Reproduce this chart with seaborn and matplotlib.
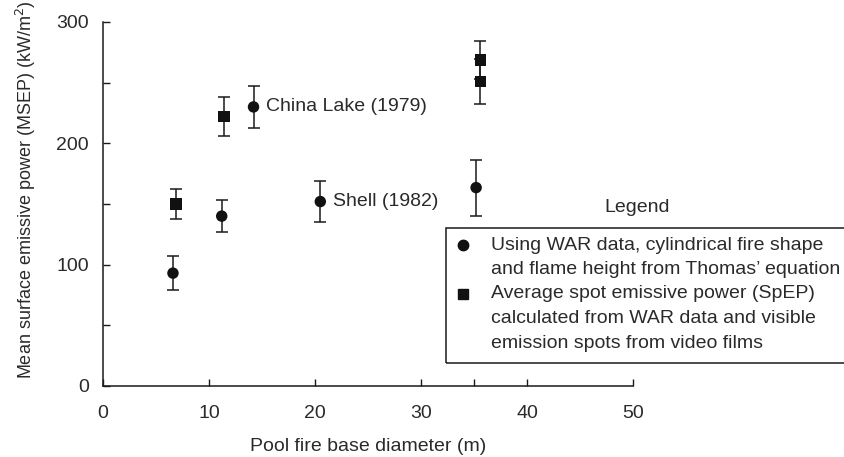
import numpy as np
import pandas as pd
import seaborn as sns
import matplotlib.pyplot as plt
from matplotlib.lines import Line2D
from matplotlib.patches import Rectangle
from matplotlib.ticker import MultipleLocator, FixedLocator

# data
war_d = [6.6, 11.2, 14.2, 20.5, 35.2]
war_msep = [93, 140, 230, 152, 163.5]
war_err = [14, 13, 17.5, 17, 23]

spep_d = [6.9, 11.4, 35.6, 35.6]
spep_msep = [150, 222, 268.7, 250.8]
spep_err = [12, 16, 15.6, 18.4]

series_names = ["WAR", "SpEP"]
legend_lines = [
    ["Using WAR data, cylindrical fire shape",
     "and flame height from Thomas\u2019 equation"],
    ["Average spot emissive power (SpEP)",
     "calculated from WAR data and visible",
     "emission spots from video films"],
]
notes = ["China Lake (1979)", "Shell (1982)"]
note_pts = [(14.2, 230), (20.5, 152)]

df = pd.DataFrame({
    "d": war_d + spep_d,
    "msep": war_msep + spep_msep,
    "err": war_err + spep_err,
    "kind": [series_names[0]] * len(war_d) + [series_names[1]] * len(spep_d),
})

sns.set_style("ticks")
plt.rcParams["font.family"] = ["Liberation Sans", "DejaVu Sans"]
txt = "#2a2a2a"
fs = 14

fig = plt.figure(figsize=(8.45, 4.57), dpi=100)
ax = fig.add_axes([0.1219, 0.1554, 0.6272, 0.7965])

ax.errorbar(df["d"], df["msep"], yerr=df["err"], fmt="none",
            ecolor="#1a1a1a", elinewidth=1.1, capsize=4.5, capthick=1.1, zorder=2)
sns.scatterplot(data=df, x="d", y="msep", style="kind",
                markers={"WAR": "o", "SpEP": "s"}, color="#111111",
                s=68, edgecolor="none", legend=False, ax=ax, zorder=3)

for label, (x, y) in zip(notes, note_pts):
    ax.annotate(label, (x, y), xytext=(9, 0), textcoords="offset points",
                va="center", ha="left", fontsize=fs, color=txt)

ax.set_xlim(0, 50)
ax.set_ylim(0, 300)
ax.xaxis.set_major_locator(MultipleLocator(10))
ax.xaxis.set_minor_locator(FixedLocator([35]))
ax.yaxis.set_major_locator(MultipleLocator(100))
ax.yaxis.set_minor_locator(MultipleLocator(50))
ax.tick_params(which="both", direction="in", length=5, width=1,
               color="#1a1a1a", labelsize=fs, labelcolor=txt)
ax.tick_params(axis="y", pad=10)
ax.tick_params(axis="x", pad=14)
for side in ["top", "right"]:
    ax.spines[side].set_visible(False)
for side in ["left", "bottom"]:
    ax.spines[side].set_color("#1a1a1a")
    ax.spines[side].set_linewidth(1.1)

ax.set_xlabel("Pool fire base diameter (m)", fontsize=fs, color=txt, labelpad=11)
ax.set_ylabel("Mean surface emissive power (MSEP) (kW/m$^2$)", fontsize=13, color=txt)
ax.yaxis.set_label_coords(-0.122, 0.54)

# legend box, drawn by hand so markers sit on the first line of each entry
fig.text(637 / 845, 1 - 208 / 457, "Legend", ha="center", va="center",
         fontsize=fs, color=txt)
fig.add_artist(Rectangle((446 / 845, 1 - 363 / 457), 410 / 845, 135 / 457,
                         transform=fig.transFigure, fill=False,
                         edgecolor="#1a1a1a", linewidth=1.1))
line_h = 24.5 / 457
y0 = 1 - 245 / 457
row = 0
for mk, lines in zip(["o", "s"], legend_lines):
    fig.add_artist(Line2D([463 / 845], [y0 - row * line_h], marker=mk,
                          markersize=7.5 if mk == "o" else 7, color="#111111",
                          linestyle="none", transform=fig.transFigure))
    for line in lines:
        fig.text(491 / 845, y0 - row * line_h, line, ha="left", va="center",
                 fontsize=fs, color=txt)
        row += 1

fig.savefig("out.png", dpi=100)
